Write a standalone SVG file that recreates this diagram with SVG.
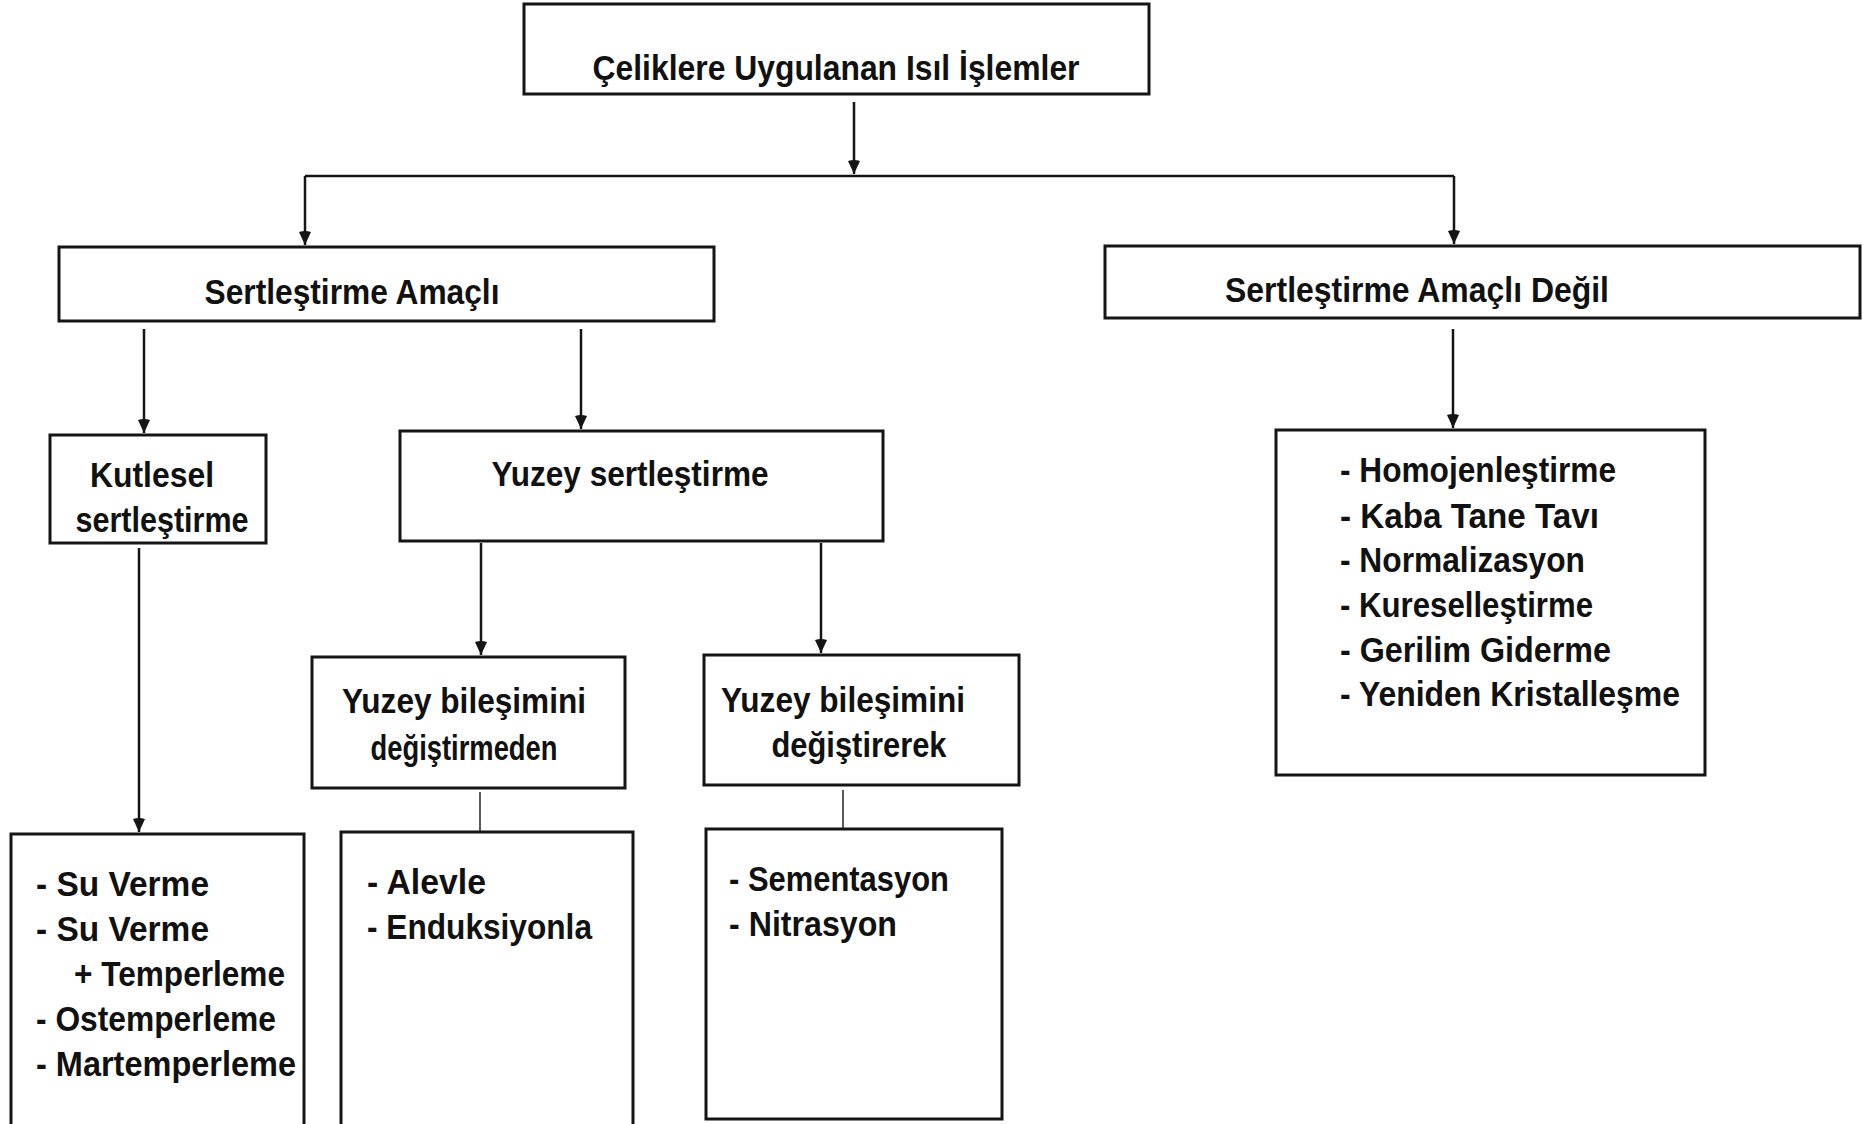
<svg xmlns="http://www.w3.org/2000/svg" width="1863" height="1124" viewBox="0 0 1863 1124">
<style>
.box{fill:#fff;stroke:#151515;stroke-width:3}
.ln{fill:none;stroke:#151515;stroke-width:2.5}
text{font-family:"Liberation Sans",Arial,sans-serif;font-weight:bold;font-size:35px;fill:#111}
.c{text-anchor:middle}
</style>
<defs>
<marker id="ad" markerWidth="14" markerHeight="16" refX="7" refY="15" orient="0" markerUnits="userSpaceOnUse" viewBox="0 0 14 16">
<path d="M1,2 Q7,0 13,2 L7,15 Z" fill="#151515"/>
</marker>
</defs>
<rect width="1863" height="1124" fill="#fff"/>
<g id="connectors">
<line class="ln" x1="854" y1="102" x2="854" y2="174" marker-end="url(#ad)"/>
<line class="ln" x1="305" y1="176" x2="1454" y2="176"/>
<line class="ln" x1="305" y1="176" x2="305" y2="245" marker-end="url(#ad)"/>
<line class="ln" x1="1454" y1="176" x2="1454" y2="244" marker-end="url(#ad)"/>
<line class="ln" x1="144" y1="329" x2="144" y2="433" marker-end="url(#ad)"/>
<line class="ln" x1="581" y1="329" x2="581" y2="429" marker-end="url(#ad)"/>
<line class="ln" x1="1453" y1="329" x2="1453" y2="428" marker-end="url(#ad)"/>
<line class="ln" x1="481" y1="543" x2="481" y2="655" marker-end="url(#ad)"/>
<line class="ln" x1="821" y1="543" x2="821" y2="653" marker-end="url(#ad)"/>
<line class="ln" x1="139" y1="548" x2="139" y2="832" marker-end="url(#ad)"/>
<line class="ln" x1="480" y1="792" x2="480" y2="832" style="stroke-width:1.4"/>
<line class="ln" x1="843" y1="790" x2="843" y2="829" style="stroke-width:1.4"/>
</g>
<g id="n-root">
<rect class="box" x="524" y="4" width="625" height="90"/>
<text class="c" x="836" y="80" textLength="487" lengthAdjust="spacingAndGlyphs">Çeliklere Uygulanan Isıl İşlemler</text>
</g>
<g id="n-sa">
<rect class="box" x="59" y="247" width="655" height="74"/>
<text class="c" x="352" y="304" textLength="295" lengthAdjust="spacingAndGlyphs">Sertleştirme Amaçlı</text>
</g>
<g id="n-sad">
<rect class="box" x="1105" y="246" width="755" height="72"/>
<text class="c" x="1417" y="302" textLength="384" lengthAdjust="spacingAndGlyphs">Sertleştirme Amaçlı Değil</text>
</g>
<g id="n-kutlesel">
<rect class="box" x="50" y="435" width="216" height="108"/>
<text class="c" x="152" y="487" textLength="124" lengthAdjust="spacingAndGlyphs">Kutlesel</text>
<text class="c" x="162" y="532" textLength="173" lengthAdjust="spacingAndGlyphs">sertleştirme</text>
</g>
<g id="n-yuzey">
<rect class="box" x="400" y="431" width="483" height="110"/>
<text class="c" x="630" y="486" textLength="277" lengthAdjust="spacingAndGlyphs">Yuzey sertleştirme</text>
</g>
<g id="n-ybd1">
<rect class="box" x="312" y="657" width="313" height="131"/>
<text class="c" x="464" y="713" textLength="244" lengthAdjust="spacingAndGlyphs">Yuzey bileşimini</text>
<text class="c" x="464" y="760" textLength="187" lengthAdjust="spacingAndGlyphs">değiştirmeden</text>
</g>
<g id="n-ybd2">
<rect class="box" x="704" y="655" width="315" height="130"/>
<text class="c" x="843" y="712" textLength="244" lengthAdjust="spacingAndGlyphs">Yuzey bileşimini</text>
<text class="c" x="859" y="757" textLength="175" lengthAdjust="spacingAndGlyphs">değiştirerek</text>
</g>
<g id="n-list-right">
<rect class="box" x="1276" y="430" width="429" height="345"/>
<text x="1340" y="482" textLength="276" lengthAdjust="spacingAndGlyphs">- Homojenleştirme</text>
<text x="1340" y="528" textLength="259" lengthAdjust="spacingAndGlyphs">- Kaba Tane Tavı</text>
<text x="1340" y="572" textLength="245" lengthAdjust="spacingAndGlyphs">- Normalizasyon</text>
<text x="1340" y="617" textLength="253" lengthAdjust="spacingAndGlyphs">- Kureselleştirme</text>
<text x="1340" y="662" textLength="271" lengthAdjust="spacingAndGlyphs">- Gerilim Giderme</text>
<text x="1340" y="706" textLength="340" lengthAdjust="spacingAndGlyphs">- Yeniden Kristalleşme</text>
</g>
<g id="n-list-kutlesel">
<rect class="box" x="11" y="834" width="293" height="300"/>
<text x="36" y="896" textLength="173" lengthAdjust="spacingAndGlyphs">- Su Verme</text>
<text x="36" y="941" textLength="173" lengthAdjust="spacingAndGlyphs">- Su Verme</text>
<text x="74" y="986" textLength="211" lengthAdjust="spacingAndGlyphs">+ Temperleme</text>
<text x="36" y="1031" textLength="240" lengthAdjust="spacingAndGlyphs">- Ostemperleme</text>
<text x="36" y="1076" textLength="260" lengthAdjust="spacingAndGlyphs">- Martemperleme</text>
</g>
<g id="n-list-ybd1">
<rect class="box" x="341" y="832" width="292" height="300"/>
<text x="367" y="894" textLength="119" lengthAdjust="spacingAndGlyphs">- Alevle</text>
<text x="367" y="939" textLength="225" lengthAdjust="spacingAndGlyphs">- Enduksiyonla</text>
</g>
<g id="n-list-ybd2">
<rect class="box" x="706" y="829" width="296" height="290"/>
<text x="729" y="891" textLength="220" lengthAdjust="spacingAndGlyphs">- Sementasyon</text>
<text x="729" y="936" textLength="168" lengthAdjust="spacingAndGlyphs">- Nitrasyon</text>
</g>
</svg>
